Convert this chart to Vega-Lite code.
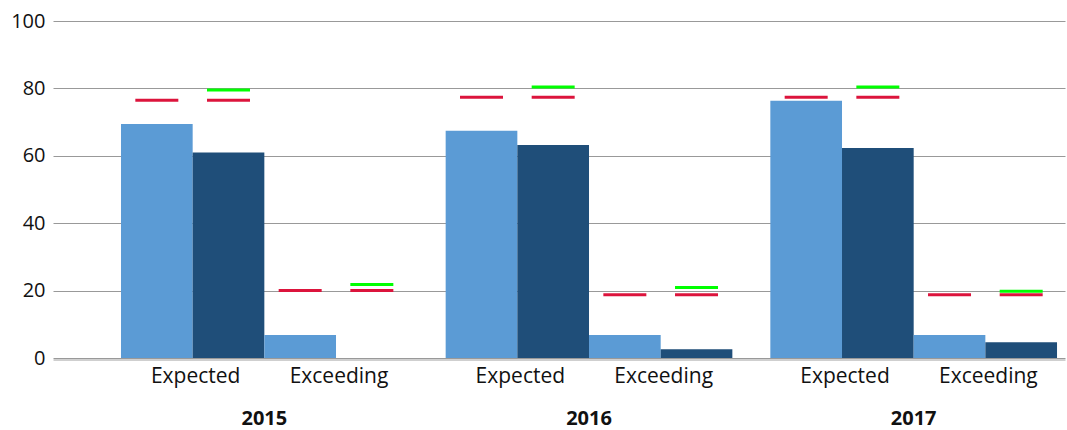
{
  "$schema": "https://vega.github.io/schema/vega-lite/v6.json",
  "autosize": {"type": "none"},
  "width": 1012,
  "height": 337,
  "padding": {"left": 53, "top": 21, "right": 2, "bottom": 72},
  "background": "white",
  "config": {
    "view": {"stroke": null},
    "font": "Open Sans"
  },
  "data": {
    "values": [
      {"year": "2015", "measure": "Expected", "series": "Series 1", "key": "Expected|Series 1", "value": 69.4, "red": 76.5, "green": null},
      {"year": "2015", "measure": "Expected", "series": "Series 2", "key": "Expected|Series 2", "value": 61.0, "red": 76.5, "green": 79.5},
      {"year": "2015", "measure": "Exceeding", "series": "Series 1", "key": "Exceeding|Series 1", "value": 6.8, "red": 20.0, "green": null},
      {"year": "2015", "measure": "Exceeding", "series": "Series 2", "key": "Exceeding|Series 2", "value": 0, "red": 20.0, "green": 21.8},
      {"year": "2016", "measure": "Expected", "series": "Series 1", "key": "Expected|Series 1", "value": 67.4, "red": 77.4, "green": null},
      {"year": "2016", "measure": "Expected", "series": "Series 2", "key": "Expected|Series 2", "value": 63.2, "red": 77.4, "green": 80.4},
      {"year": "2016", "measure": "Exceeding", "series": "Series 1", "key": "Exceeding|Series 1", "value": 6.8, "red": 18.8, "green": null},
      {"year": "2016", "measure": "Exceeding", "series": "Series 2", "key": "Exceeding|Series 2", "value": 2.6, "red": 18.8, "green": 20.9},
      {"year": "2017", "measure": "Expected", "series": "Series 1", "key": "Expected|Series 1", "value": 76.3, "red": 77.4, "green": null},
      {"year": "2017", "measure": "Expected", "series": "Series 2", "key": "Expected|Series 2", "value": 62.3, "red": 77.4, "green": 80.4},
      {"year": "2017", "measure": "Exceeding", "series": "Series 1", "key": "Exceeding|Series 1", "value": 6.8, "red": 18.8, "green": null},
      {"year": "2017", "measure": "Exceeding", "series": "Series 2", "key": "Exceeding|Series 2", "value": 4.7, "red": 18.8, "green": 19.8}
    ]
  },
  "encoding": {
    "x": {
      "field": "year",
      "type": "nominal",
      "scale": {"paddingInner": 0.117, "paddingOuter": 0.117, "align": 0.895},
      "axis": {
        "title": null,
        "labelAngle": 0,
        "labelFont": "Open Sans",
        "labelFontSize": 20,
        "labelFontWeight": "bold",
        "labelColor": "#111111",
        "labelPadding": 49,
        "ticks": false,
        "domain": true,
        "domainColor": "#a0a0a0",
        "domainWidth": 1,
        "offset": 1.5,
        "grid": false
      }
    }
  },
  "layer": [
    {
      "layer": [
        {
          "mark": {"type": "bar"},
          "encoding": {
            "y": {
              "field": "value",
              "type": "quantitative",
              "scale": {"domain": [0, 100], "nice": false},
              "axis": {
                "title": null,
                "values": [0, 20, 40, 60, 80, 100],
                "labelFont": "Open Sans",
                "labelFontSize": 20,
                "labelColor": "#111111",
                "labelPadding": 8,
                "ticks": false,
                "domain": false,
                "grid": true,
                "gridColor": "#999999",
                "gridWidth": 1
              }
            },
            "color": {
              "field": "series",
              "type": "nominal",
              "scale": {"domain": ["Series 1", "Series 2"], "range": ["#5b9bd5", "#1f4e79"]},
              "legend": null
            }
          }
        },
        {
          "mark": {"type": "tick", "color": "#dc143c", "opacity": 1, "size": 43, "thickness": 3, "orient": "horizontal"},
          "encoding": {
            "y": {"field": "red", "type": "quantitative"}
          }
        },
        {
          "transform": [{"filter": "datum.green != null"}],
          "mark": {"type": "tick", "color": "#00ff00", "opacity": 1, "size": 43, "thickness": 3, "orient": "horizontal"},
          "encoding": {
            "y": {"field": "green", "type": "quantitative"}
          }
        }
      ],
      "encoding": {
        "xOffset": {
          "field": "key",
          "type": "nominal",
          "scale": {"domain": ["Expected|Series 1", "Expected|Series 2", "Exceeding|Series 1", "Exceeding|Series 2"], "paddingInner": 0, "paddingOuter": 0}
        }
      }
    },
    {
      "transform": [{"filter": "datum.series == 'Series 1'"}],
      "mark": {"type": "text", "font": "Open Sans", "fontSize": 21, "color": "#111111", "baseline": "alphabetic", "align": "center", "dy": 24.5, "dx": 3},
      "encoding": {
        "xOffset": {
          "field": "measure",
          "type": "nominal",
          "scale": {"type": "point", "domain": ["Expected", "Exceeding"], "padding": 0.5}
        },
        "y": {"datum": 0, "type": "quantitative"},
        "text": {"field": "measure"}
      }
    }
  ],
  "resolve": {"scale": {"xOffset": "independent"}}
}
